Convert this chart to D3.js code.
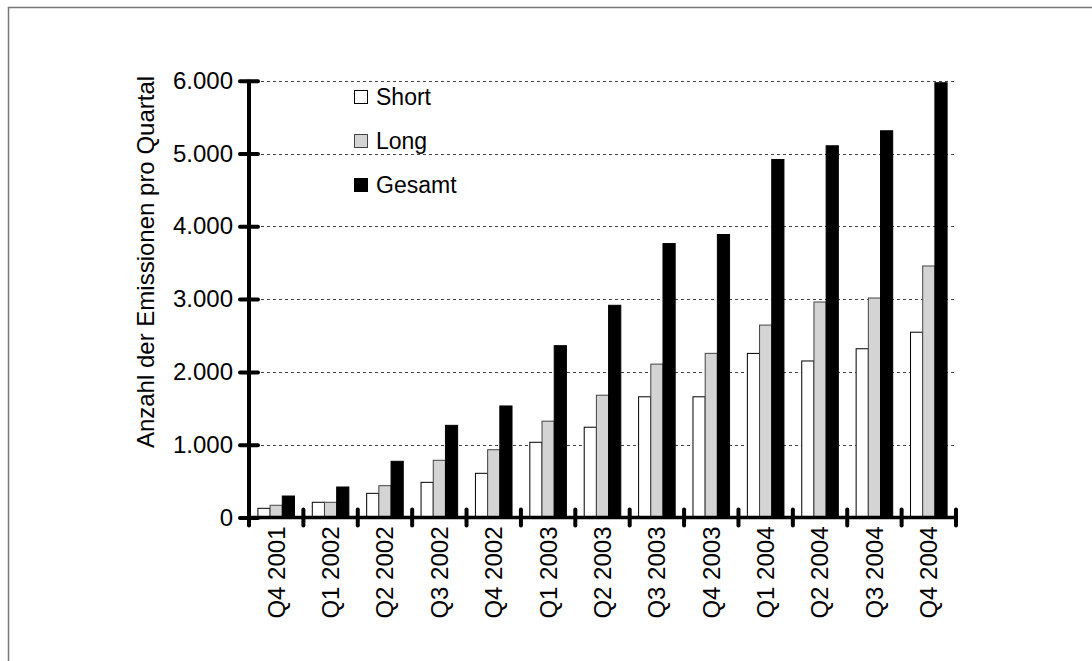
<!DOCTYPE html>
<html>
<head>
<meta charset="utf-8">
<script src="https://cdn.jsdelivr.net/npm/d3@7"></script>
<style>
  html, body { margin: 0; padding: 0; background: #fff; }
  svg { display: block; font-family: "Liberation Sans", Arial, sans-serif; }
</style>
</head>
<body>
<svg id="chart" width="1092" height="661"></svg>
<script>
const categories = ["Q4 2001","Q1 2002","Q2 2002","Q3 2002","Q4 2002","Q1 2003","Q2 2003","Q3 2003","Q4 2003","Q1 2004","Q2 2004","Q3 2004","Q4 2004"];
const seriesNames = ["Short","Long","Gesamt"];
const shortValues  = [126, 209, 332, 483, 607, 1033, 1240, 1658, 1658, 2254, 2150, 2318, 2545];
const longValues   = [168, 209, 437, 786, 931, 1323, 1680, 2107, 2255, 2643, 2960, 3015, 3455];
const gesamtValues = [295, 419, 772, 1266, 1532, 2360, 2915, 3763, 3887, 4918, 5106, 5312, 5972];
const yTicks = [0, 1000, 2000, 3000, 4000, 5000, 6000];
const yLabel = "Anzahl der Emissionen pro Quartal";

const seriesValues = [shortValues, longValues, gesamtValues];
const fills = ["#ffffff", "#d4d4d4", "#000000"];
const strokes = ["#000000", "#444444", "#000000"];

const svg = d3.select("#chart");
const fmt = d3.formatLocale({decimal: ",", thousands: ".", grouping: [3], currency: ["", "€"]}).format(",d");

// frame
svg.append("rect").attr("x", 8.5).attr("y", 7.5).attr("width", 1200).attr("height", 800)
  .attr("fill", "none").attr("stroke", "#777").attr("stroke-width", 1.5);

const x0 = 249, x1 = 956, yBottom = 517.5, yTop = 80.7;
const y = d3.scaleLinear().domain([0, 6000]).range([yBottom, yTop]);
const xCat = d3.scaleBand().domain(categories).range([x0, x1]).padding(0);
const xSer = d3.scaleBand().domain(seriesNames).range([0, xCat.bandwidth()]).paddingInner(0).paddingOuter(0.73);

// gridlines
svg.append("g").selectAll("line").data(yTicks.filter(d => d > 0)).join("line")
  .attr("x1", x0).attr("x2", x1)
  .attr("y1", d => Math.round(y(d)) + 0.5).attr("y2", d => Math.round(y(d)) + 0.5)
  .attr("stroke", "#444").attr("stroke-width", 1).attr("stroke-dasharray", "3,3");

// bars
const groups = svg.append("g").selectAll("g").data(categories).join("g")
  .attr("transform", d => `translate(${xCat(d)},0)`);
groups.selectAll("rect").data((c, i) => seriesNames.map((s, j) => ({s, j, v: seriesValues[j][i]}))).join("rect")
  .attr("x", d => xSer(d.s)).attr("width", xSer.bandwidth())
  .attr("y", d => y(d.v)).attr("height", d => yBottom - y(d.v))
  .attr("fill", d => fills[d.j]).attr("stroke", d => strokes[d.j]).attr("stroke-width", 1);

// y axis
const yAxis = d3.axisLeft(y).tickValues(yTicks).tickFormat(fmt).tickSize(9).tickPadding(8);
const gy = svg.append("g").attr("transform", `translate(${x0},0)`).call(yAxis);
gy.select(".domain").remove();
gy.selectAll(".tick line").attr("x1", 9).attr("x2", -9).attr("stroke", "#000").attr("stroke-width", 4).attr("stroke-linecap", "round");
gy.selectAll(".tick text").attr("x", -16).attr("font-size", 24).attr("fill", "#000").attr("font-family", "Liberation Sans, Arial, sans-serif");
svg.append("line").attr("x1", x0).attr("x2", x0).attr("y1", yTop - 1).attr("y2", yBottom)
  .attr("stroke", "#000").attr("stroke-width", 4);

// x axis
svg.append("line").attr("x1", x0).attr("x2", x1).attr("y1", yBottom).attr("y2", yBottom)
  .attr("stroke", "#000").attr("stroke-width", 3.5);
const boundaries = categories.map(c => xCat(c)).concat([x1]);
svg.append("g").selectAll("line").data(boundaries).join("line")
  .attr("x1", d => d).attr("x2", d => d).attr("y1", yBottom - 8).attr("y2", yBottom + 8)
  .attr("stroke", "#000").attr("stroke-width", 4).attr("stroke-linecap", "round");
const xAxis = d3.axisBottom(xCat).tickSize(0).tickPadding(0);
const gx = svg.append("g").attr("transform", `translate(0,${yBottom})`).call(xAxis);
gx.select(".domain").remove();
gx.selectAll(".tick text")
  .attr("transform", "rotate(-90)")
  .attr("x", -9).attr("y", 0).attr("dy", "0.35em")
  .attr("text-anchor", "end").attr("font-size", 24).attr("fill", "#000")
  .attr("font-family", "Liberation Sans, Arial, sans-serif");

// y label
svg.append("text").attr("transform", "translate(146,262) rotate(-90)")
  .attr("text-anchor", "middle").attr("dy", "0.35em").attr("font-size", 24).text(yLabel);

// legend
const legend = svg.append("g").selectAll("g").data(seriesNames).join("g")
  .attr("transform", (d, i) => `translate(354,${90 + i * 44})`);
legend.append("rect").attr("x", 0.5).attr("y", 0.5).attr("width", 13).attr("height", 13)
  .attr("fill", (d, i) => fills[i]).attr("stroke", (d, i) => strokes[i]).attr("stroke-width", 1);
legend.append("text").attr("x", 22).attr("y", 7).attr("dy", "0.35em").attr("font-size", 23).text(d => d);
</script>
</body>
</html>
